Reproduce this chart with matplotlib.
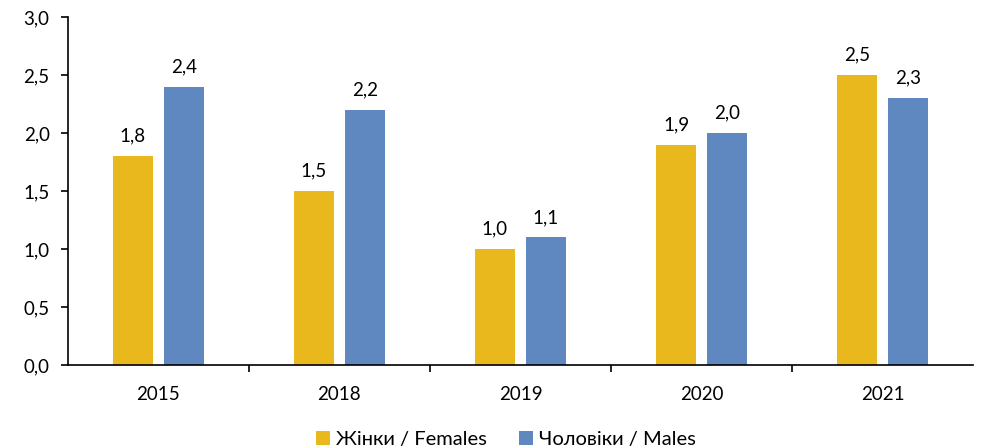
import matplotlib.pyplot as plt
from matplotlib.ticker import FuncFormatter
import numpy as np

years = ["2015", "2018", "2019", "2020", "2021"]
females = [1.8, 1.5, 1.0, 1.9, 2.5]
males = [2.4, 2.2, 1.1, 2.0, 2.3]

plt.rcParams['font.family'] = ['Lato', 'DejaVu Sans']
plt.rcParams['font.size'] = 13.5

fig = plt.figure(figsize=(9.82, 4.48), dpi=100)
ax = fig.add_axes([0.069, 0.185, 0.922, 0.777])

x = np.arange(len(years))
w = 0.22
off = 0.141
b1 = ax.bar(x - off, females, w, color="#E9B81C", label="Жінки / Females")
b2 = ax.bar(x + off, males, w, color="#6088C0", label="Чоловіки / Males")

fmt = lambda v: f"{v:.1f}".replace(".", ",")
for bars in (b1, b2):
    for r in bars:
        h = r.get_height()
        ax.text(r.get_x() + r.get_width() / 2, h + 0.1, fmt(h),
                ha="center", va="bottom", fontsize=13.5)

ax.set_xlim(-0.5, len(years) - 0.5)
ax.set_ylim(0, 3.0)
ax.set_yticks(np.arange(0, 3.01, 0.5))
ax.yaxis.set_major_formatter(FuncFormatter(lambda v, p: fmt(v)))
ax.set_xticks(x)
ax.set_xticklabels(years)
ax.set_xticks(np.arange(0.5, len(years) - 0.5), minor=True)
ax.tick_params(axis="x", which="major", length=0, pad=15)
ax.tick_params(axis="x", which="minor", length=5, width=1.2)
ax.tick_params(axis="y", length=5, width=1.2, pad=8)
for s in ("top", "right"):
    ax.spines[s].set_visible(False)
for s in ("left", "bottom"):
    ax.spines[s].set_linewidth(1.2)

fig.legend(loc="lower center", bbox_to_anchor=(0.515, -0.04), ncol=2,
           frameon=False, fontsize=14.5, handlelength=0.7, handleheight=0.7,
           handletextpad=0.3, columnspacing=1.6)

fig.savefig("out.png", dpi=100)
